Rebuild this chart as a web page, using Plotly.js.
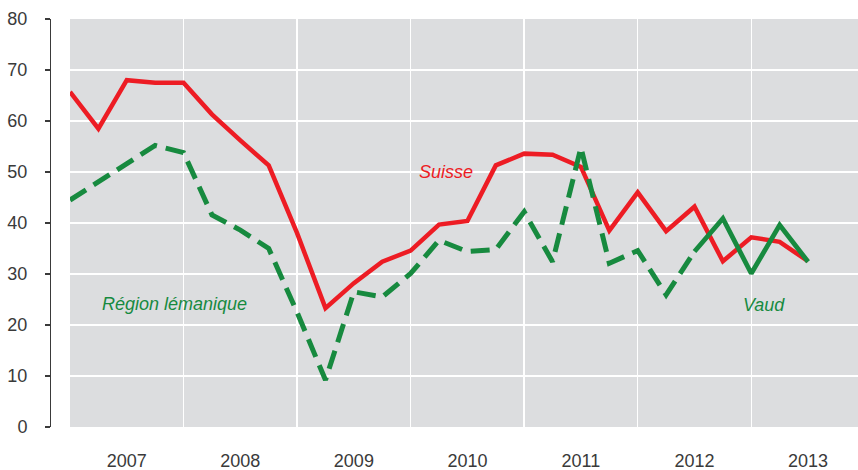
<!DOCTYPE html>
<html>
<head>
<meta charset="utf-8">
<script src="https://cdn.plot.ly/plotly-3.0.1.min.js"></script>
<style>html,body{margin:0;padding:0;background:#fff;}#chart{width:858px;height:470px;}</style>
</head>
<body>
<div id="chart"></div>
<script>
// Quarterly positions (2007 T1 ... 2013 T3), expressed in years
const quarters = [2007.00, 2007.25, 2007.50, 2007.75,
                  2008.00, 2008.25, 2008.50, 2008.75,
                  2009.00, 2009.25, 2009.50, 2009.75,
                  2010.00, 2010.25, 2010.50, 2010.75,
                  2011.00, 2011.25, 2011.50, 2011.75,
                  2012.00, 2012.25, 2012.50, 2012.75,
                  2013.00, 2013.25, 2013.50];
const suisse = [65.7, 58.5, 68.0, 67.5, 67.5, 61.3, 56.2, 51.3,
                38.0, 23.3, 28.2, 32.4, 34.6, 39.7, 40.4, 51.3,
                53.6, 53.4, 51.0, 38.5, 46.0, 38.4, 43.2, 32.5,
                37.2, 36.3, 32.5];
const regionQuarters = quarters.slice(0, 23);
const regionLemanique = [44.5, 48.1, 51.6, 55.2, 53.8, 41.6, 38.6, 35.0,
                         22.5, 9.2, 26.5, 25.5, 30.1, 36.6, 34.4, 34.8,
                         42.2, 32.4, 54.8, 32.1, 34.6, 25.9, 34.4];
const vaudQuarters = quarters.slice(22);
const vaud = [34.4, 40.9, 30.1, 39.6, 32.4];
const yearLabels = ['2007', '2008', '2009', '2010', '2011', '2012', '2013'];
const yearLabelPos = [2007.5, 2008.5, 2009.5, 2010.5, 2011.5, 2012.5, 2013.5];
const yTicks = [0, 10, 20, 30, 40, 50, 60, 70, 80];

const RED = '#ED1C24';
const GREEN = '#178A3F';
const FONT = 'Liberation Sans, Arial, sans-serif';

const traces = [
  {x: quarters, y: suisse, type: 'scatter', mode: 'lines', name: 'Suisse',
   line: {color: RED, width: 4.5}, hoverinfo: 'skip'},
  {x: regionQuarters, y: regionLemanique, type: 'scatter', mode: 'lines', name: 'Région lémanique',
   line: {color: GREEN, width: 5, dash: '19px,9px'}, hoverinfo: 'skip'},
  {x: vaudQuarters, y: vaud, type: 'scatter', mode: 'lines', name: 'Vaud',
   line: {color: GREEN, width: 4.8}, hoverinfo: 'skip'}
];

const layout = {
  width: 858, height: 470,
  margin: {l: 50, r: 0, t: 19, b: 43, pad: 0},
  paper_bgcolor: '#ffffff',
  plot_bgcolor: '#DCDDDF',
  showlegend: false,
  font: {family: FONT, size: 18, color: '#3a3a3a'},
  xaxis: {
    domain: [20 / 808, 1],
    range: [2007, 2013.94],
    tickmode: 'array', tickvals: yearLabelPos, ticktext: yearLabels,
    showgrid: false, zeroline: false, showline: false, ticks: '',
    ticklabelstandoff: 21,
    tickfont: {family: FONT, size: 18, color: '#3a3a3a'},
    minor: {tick0: 2007, dtick: 1, showgrid: true, gridcolor: '#ffffff', gridwidth: 1.5, ticks: ''}
  },
  yaxis: {
    range: [0, 80],
    anchor: 'free', position: 0,
    tickmode: 'array', tickvals: yTicks,
    showgrid: true, gridcolor: '#ffffff', gridwidth: 1.5,
    zeroline: false,
    showline: true, linecolor: '#3a3a3a', linewidth: 1.3,
    ticks: 'outside', ticklen: 5, tickcolor: '#3a3a3a', tickwidth: 1.3,
    ticklabelstandoff: 14,
    tickfont: {family: FONT, size: 18, color: '#3a3a3a'}
  },
  annotations: [
    {text: 'Suisse', xref: 'x', yref: 'y', x: 2010.31, y: 50, showarrow: false,
     font: {family: FONT, size: 18, color: RED, style: 'italic'}},
    {text: 'Région lémanique', xref: 'x', yref: 'y', x: 2007.92, y: 24.2, showarrow: false,
     font: {family: FONT, size: 18, color: GREEN, style: 'italic'}},
    {text: 'Vaud', xref: 'x', yref: 'y', x: 2013.11, y: 23.9, showarrow: false,
     font: {family: FONT, size: 18, color: GREEN, style: 'italic'}}
  ]
};

Plotly.newPlot('chart', traces, layout, {displayModeBar: false, staticPlot: true});
</script>
</body>
</html>
